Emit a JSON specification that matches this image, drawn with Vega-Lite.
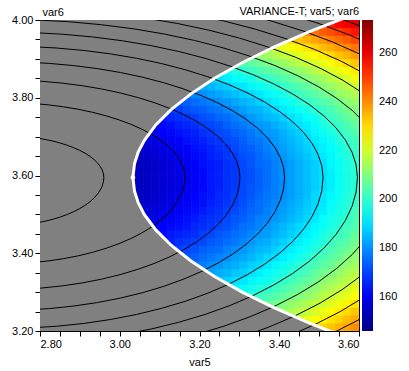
{
"$schema": "https://vega.github.io/schema/vega-lite/v6.json",
"width": 319, "height": 311,
"autosize": "none",
"padding": {"left": 40, "top": 20, "right": 50, "bottom": 40},
"background": "white",
"title": {"text": "VARIANCE-T; var5; var6", "anchor": "end", "frame": "group", "fontSize": 11, "fontWeight": "normal", "font": "Liberation Sans", "color": "black", "offset": -20, "baseline": "alphabetic"},
"config": {
 "view": {"stroke": "black", "strokeWidth": 1, "fill": "#808080"},
 "axis": {"grid": false, "domainColor": "black", "tickColor": "black", "labelColor": "black", "titleColor": "black", "labelFont": "Liberation Sans", "titleFont": "Liberation Sans", "labelFontSize": 11, "titleFontSize": 11, "titleFontWeight": "normal", "tickSize": 5, "labelPadding": 2}
},
"datasets": {
 "grid": [
{"x":3.49,"y":3.21,"v":228},{"x":3.51,"y":3.21,"v":231},{"x":3.53,"y":3.21,"v":233},{"x":3.55,"y":3.21,"v":235},{"x":3.57,"y":3.21,"v":237},{"x":3.59,"y":3.21,"v":240},
{"x":3.45,"y":3.23,"v":221},{"x":3.47,"y":3.23,"v":223},{"x":3.49,"y":3.23,"v":225},{"x":3.51,"y":3.23,"v":227},{"x":3.53,"y":3.23,"v":229},{"x":3.55,"y":3.23,"v":231},{"x":3.57,"y":3.23,"v":234},{"x":3.59,"y":3.23,"v":236},
{"x":3.41,"y":3.25,"v":213},{"x":3.43,"y":3.25,"v":215},{"x":3.45,"y":3.25,"v":217},{"x":3.47,"y":3.25,"v":219},{"x":3.49,"y":3.25,"v":221},{"x":3.51,"y":3.25,"v":223},{"x":3.53,"y":3.25,"v":226},{"x":3.55,"y":3.25,"v":228},{"x":3.57,"y":3.25,"v":230},{"x":3.59,"y":3.25,"v":233},
{"x":3.37,"y":3.27,"v":206},{"x":3.39,"y":3.27,"v":208},{"x":3.41,"y":3.27,"v":210},{"x":3.43,"y":3.27,"v":212},{"x":3.45,"y":3.27,"v":214},{"x":3.47,"y":3.27,"v":216},{"x":3.49,"y":3.27,"v":218},{"x":3.51,"y":3.27,"v":220},{"x":3.53,"y":3.27,"v":222},{"x":3.55,"y":3.27,"v":224},{"x":3.57,"y":3.27,"v":227},{"x":3.59,"y":3.27,"v":229},
{"x":3.33,"y":3.29,"v":199},{"x":3.35,"y":3.29,"v":201},{"x":3.37,"y":3.29,"v":203},{"x":3.39,"y":3.29,"v":204},{"x":3.41,"y":3.29,"v":206},{"x":3.43,"y":3.29,"v":208},{"x":3.45,"y":3.29,"v":210},{"x":3.47,"y":3.29,"v":212},{"x":3.49,"y":3.29,"v":214},{"x":3.51,"y":3.29,"v":217},{"x":3.53,"y":3.29,"v":219},{"x":3.55,"y":3.29,"v":221},{"x":3.57,"y":3.29,"v":223},{"x":3.59,"y":3.29,"v":226},
{"x":3.29,"y":3.31,"v":193},{"x":3.31,"y":3.31,"v":194},{"x":3.33,"y":3.31,"v":196},{"x":3.35,"y":3.31,"v":198},{"x":3.37,"y":3.31,"v":199},{"x":3.39,"y":3.31,"v":201},{"x":3.41,"y":3.31,"v":203},{"x":3.43,"y":3.31,"v":205},{"x":3.45,"y":3.31,"v":207},{"x":3.47,"y":3.31,"v":209},{"x":3.49,"y":3.31,"v":211},{"x":3.51,"y":3.31,"v":214},{"x":3.53,"y":3.31,"v":216},{"x":3.55,"y":3.31,"v":218},{"x":3.57,"y":3.31,"v":220},{"x":3.59,"y":3.31,"v":223},
{"x":3.25,"y":3.33,"v":187},{"x":3.27,"y":3.33,"v":188},{"x":3.29,"y":3.33,"v":190},{"x":3.31,"y":3.33,"v":191},{"x":3.33,"y":3.33,"v":193},{"x":3.35,"y":3.33,"v":195},{"x":3.37,"y":3.33,"v":196},{"x":3.39,"y":3.33,"v":198},{"x":3.41,"y":3.33,"v":200},{"x":3.43,"y":3.33,"v":202},{"x":3.45,"y":3.33,"v":204},{"x":3.47,"y":3.33,"v":206},{"x":3.49,"y":3.33,"v":208},{"x":3.51,"y":3.33,"v":211},{"x":3.53,"y":3.33,"v":213},{"x":3.55,"y":3.33,"v":215},{"x":3.57,"y":3.33,"v":217},{"x":3.59,"y":3.33,"v":220},
{"x":3.21,"y":3.35,"v":181},{"x":3.23,"y":3.35,"v":182},{"x":3.25,"y":3.35,"v":184},{"x":3.27,"y":3.35,"v":185},{"x":3.29,"y":3.35,"v":187},{"x":3.31,"y":3.35,"v":188},{"x":3.33,"y":3.35,"v":190},{"x":3.35,"y":3.35,"v":192},{"x":3.37,"y":3.35,"v":194},{"x":3.39,"y":3.35,"v":196},{"x":3.41,"y":3.35,"v":197},{"x":3.43,"y":3.35,"v":199},{"x":3.45,"y":3.35,"v":201},{"x":3.47,"y":3.35,"v":203},{"x":3.49,"y":3.35,"v":206},{"x":3.51,"y":3.35,"v":208},{"x":3.53,"y":3.35,"v":210},{"x":3.55,"y":3.35,"v":212},{"x":3.57,"y":3.35,"v":215},{"x":3.59,"y":3.35,"v":217},
{"x":3.19,"y":3.37,"v":177},{"x":3.21,"y":3.37,"v":178},{"x":3.23,"y":3.37,"v":180},{"x":3.25,"y":3.37,"v":181},{"x":3.27,"y":3.37,"v":183},{"x":3.29,"y":3.37,"v":184},{"x":3.31,"y":3.37,"v":186},{"x":3.33,"y":3.37,"v":188},{"x":3.35,"y":3.37,"v":189},{"x":3.37,"y":3.37,"v":191},{"x":3.39,"y":3.37,"v":193},{"x":3.41,"y":3.37,"v":195},{"x":3.43,"y":3.37,"v":197},{"x":3.45,"y":3.37,"v":199},{"x":3.47,"y":3.37,"v":201},{"x":3.49,"y":3.37,"v":203},{"x":3.51,"y":3.37,"v":205},{"x":3.53,"y":3.37,"v":207},{"x":3.55,"y":3.37,"v":210},{"x":3.57,"y":3.37,"v":212},{"x":3.59,"y":3.37,"v":214},
{"x":3.17,"y":3.39,"v":173},{"x":3.19,"y":3.39,"v":174},{"x":3.21,"y":3.39,"v":176},{"x":3.23,"y":3.39,"v":177},{"x":3.25,"y":3.39,"v":179},{"x":3.27,"y":3.39,"v":180},{"x":3.29,"y":3.39,"v":182},{"x":3.31,"y":3.39,"v":183},{"x":3.33,"y":3.39,"v":185},{"x":3.35,"y":3.39,"v":187},{"x":3.37,"y":3.39,"v":189},{"x":3.39,"y":3.39,"v":190},{"x":3.41,"y":3.39,"v":192},{"x":3.43,"y":3.39,"v":194},{"x":3.45,"y":3.39,"v":196},{"x":3.47,"y":3.39,"v":198},{"x":3.49,"y":3.39,"v":201},{"x":3.51,"y":3.39,"v":203},{"x":3.53,"y":3.39,"v":205},{"x":3.55,"y":3.39,"v":207},{"x":3.57,"y":3.39,"v":210},{"x":3.59,"y":3.39,"v":212},
{"x":3.13,"y":3.41,"v":168},{"x":3.15,"y":3.41,"v":170},{"x":3.17,"y":3.41,"v":171},{"x":3.19,"y":3.41,"v":172},{"x":3.21,"y":3.41,"v":174},{"x":3.23,"y":3.41,"v":175},{"x":3.25,"y":3.41,"v":176},{"x":3.27,"y":3.41,"v":178},{"x":3.29,"y":3.41,"v":180},{"x":3.31,"y":3.41,"v":181},{"x":3.33,"y":3.41,"v":183},{"x":3.35,"y":3.41,"v":185},{"x":3.37,"y":3.41,"v":186},{"x":3.39,"y":3.41,"v":188},{"x":3.41,"y":3.41,"v":190},{"x":3.43,"y":3.41,"v":192},{"x":3.45,"y":3.41,"v":194},{"x":3.47,"y":3.41,"v":196},{"x":3.49,"y":3.41,"v":198},{"x":3.51,"y":3.41,"v":200},{"x":3.53,"y":3.41,"v":203},{"x":3.55,"y":3.41,"v":205},{"x":3.57,"y":3.41,"v":207},{"x":3.59,"y":3.41,"v":210},
{"x":3.11,"y":3.43,"v":165},{"x":3.13,"y":3.43,"v":166},{"x":3.15,"y":3.43,"v":168},{"x":3.17,"y":3.43,"v":169},{"x":3.19,"y":3.43,"v":170},{"x":3.21,"y":3.43,"v":171},{"x":3.23,"y":3.43,"v":173},{"x":3.25,"y":3.43,"v":174},{"x":3.27,"y":3.43,"v":176},{"x":3.29,"y":3.43,"v":177},{"x":3.31,"y":3.43,"v":179},{"x":3.33,"y":3.43,"v":181},{"x":3.35,"y":3.43,"v":183},{"x":3.37,"y":3.43,"v":184},{"x":3.39,"y":3.43,"v":186},{"x":3.41,"y":3.43,"v":188},{"x":3.43,"y":3.43,"v":190},{"x":3.45,"y":3.43,"v":192},{"x":3.47,"y":3.43,"v":194},{"x":3.49,"y":3.43,"v":196},{"x":3.51,"y":3.43,"v":198},{"x":3.53,"y":3.43,"v":201},{"x":3.55,"y":3.43,"v":203},{"x":3.57,"y":3.43,"v":205},{"x":3.59,"y":3.43,"v":208},
{"x":3.09,"y":3.45,"v":162},{"x":3.11,"y":3.45,"v":163},{"x":3.13,"y":3.45,"v":165},{"x":3.15,"y":3.45,"v":166},{"x":3.17,"y":3.45,"v":167},{"x":3.19,"y":3.45,"v":168},{"x":3.21,"y":3.45,"v":170},{"x":3.23,"y":3.45,"v":171},{"x":3.25,"y":3.45,"v":173},{"x":3.27,"y":3.45,"v":174},{"x":3.29,"y":3.45,"v":176},{"x":3.31,"y":3.45,"v":177},{"x":3.33,"y":3.45,"v":179},{"x":3.35,"y":3.45,"v":181},{"x":3.37,"y":3.45,"v":182},{"x":3.39,"y":3.45,"v":184},{"x":3.41,"y":3.45,"v":186},{"x":3.43,"y":3.45,"v":188},{"x":3.45,"y":3.45,"v":190},{"x":3.47,"y":3.45,"v":192},{"x":3.49,"y":3.45,"v":194},{"x":3.51,"y":3.45,"v":197},{"x":3.53,"y":3.45,"v":199},{"x":3.55,"y":3.45,"v":201},{"x":3.57,"y":3.45,"v":203},{"x":3.59,"y":3.45,"v":206},
{"x":3.09,"y":3.47,"v":161},{"x":3.11,"y":3.47,"v":162},{"x":3.13,"y":3.47,"v":163},{"x":3.15,"y":3.47,"v":164},{"x":3.17,"y":3.47,"v":165},{"x":3.19,"y":3.47,"v":167},{"x":3.21,"y":3.47,"v":168},{"x":3.23,"y":3.47,"v":169},{"x":3.25,"y":3.47,"v":171},{"x":3.27,"y":3.47,"v":172},{"x":3.29,"y":3.47,"v":174},{"x":3.31,"y":3.47,"v":176},{"x":3.33,"y":3.47,"v":177},{"x":3.35,"y":3.47,"v":179},{"x":3.37,"y":3.47,"v":181},{"x":3.39,"y":3.47,"v":183},{"x":3.41,"y":3.47,"v":185},{"x":3.43,"y":3.47,"v":187},{"x":3.45,"y":3.47,"v":189},{"x":3.47,"y":3.47,"v":191},{"x":3.49,"y":3.47,"v":193},{"x":3.51,"y":3.47,"v":195},{"x":3.53,"y":3.47,"v":197},{"x":3.55,"y":3.47,"v":199},{"x":3.57,"y":3.47,"v":202},{"x":3.59,"y":3.47,"v":204},
{"x":3.07,"y":3.49,"v":158},{"x":3.09,"y":3.49,"v":159},{"x":3.11,"y":3.49,"v":160},{"x":3.13,"y":3.49,"v":161},{"x":3.15,"y":3.49,"v":163},{"x":3.17,"y":3.49,"v":164},{"x":3.19,"y":3.49,"v":165},{"x":3.21,"y":3.49,"v":167},{"x":3.23,"y":3.49,"v":168},{"x":3.25,"y":3.49,"v":169},{"x":3.27,"y":3.49,"v":171},{"x":3.29,"y":3.49,"v":173},{"x":3.31,"y":3.49,"v":174},{"x":3.33,"y":3.49,"v":176},{"x":3.35,"y":3.49,"v":178},{"x":3.37,"y":3.49,"v":179},{"x":3.39,"y":3.49,"v":181},{"x":3.41,"y":3.49,"v":183},{"x":3.43,"y":3.49,"v":185},{"x":3.45,"y":3.49,"v":187},{"x":3.47,"y":3.49,"v":189},{"x":3.49,"y":3.49,"v":191},{"x":3.51,"y":3.49,"v":194},{"x":3.53,"y":3.49,"v":196},{"x":3.55,"y":3.49,"v":198},{"x":3.57,"y":3.49,"v":200},{"x":3.59,"y":3.49,"v":203},
{"x":3.05,"y":3.51,"v":156},{"x":3.07,"y":3.51,"v":157},{"x":3.09,"y":3.51,"v":158},{"x":3.11,"y":3.51,"v":159},{"x":3.13,"y":3.51,"v":160},{"x":3.15,"y":3.51,"v":161},{"x":3.17,"y":3.51,"v":163},{"x":3.19,"y":3.51,"v":164},{"x":3.21,"y":3.51,"v":165},{"x":3.23,"y":3.51,"v":167},{"x":3.25,"y":3.51,"v":168},{"x":3.27,"y":3.51,"v":170},{"x":3.29,"y":3.51,"v":171},{"x":3.31,"y":3.51,"v":173},{"x":3.33,"y":3.51,"v":175},{"x":3.35,"y":3.51,"v":176},{"x":3.37,"y":3.51,"v":178},{"x":3.39,"y":3.51,"v":180},{"x":3.41,"y":3.51,"v":182},{"x":3.43,"y":3.51,"v":184},{"x":3.45,"y":3.51,"v":186},{"x":3.47,"y":3.51,"v":188},{"x":3.49,"y":3.51,"v":190},{"x":3.51,"y":3.51,"v":192},{"x":3.53,"y":3.51,"v":195},{"x":3.55,"y":3.51,"v":197},{"x":3.57,"y":3.51,"v":199},{"x":3.59,"y":3.51,"v":202},
{"x":3.05,"y":3.53,"v":155},{"x":3.07,"y":3.53,"v":156},{"x":3.09,"y":3.53,"v":157},{"x":3.11,"y":3.53,"v":158},{"x":3.13,"y":3.53,"v":159},{"x":3.15,"y":3.53,"v":161},{"x":3.17,"y":3.53,"v":162},{"x":3.19,"y":3.53,"v":163},{"x":3.21,"y":3.53,"v":164},{"x":3.23,"y":3.53,"v":166},{"x":3.25,"y":3.53,"v":167},{"x":3.27,"y":3.53,"v":169},{"x":3.29,"y":3.53,"v":170},{"x":3.31,"y":3.53,"v":172},{"x":3.33,"y":3.53,"v":174},{"x":3.35,"y":3.53,"v":176},{"x":3.37,"y":3.53,"v":177},{"x":3.39,"y":3.53,"v":179},{"x":3.41,"y":3.53,"v":181},{"x":3.43,"y":3.53,"v":183},{"x":3.45,"y":3.53,"v":185},{"x":3.47,"y":3.53,"v":187},{"x":3.49,"y":3.53,"v":189},{"x":3.51,"y":3.53,"v":191},{"x":3.53,"y":3.53,"v":194},{"x":3.55,"y":3.53,"v":196},{"x":3.57,"y":3.53,"v":198},{"x":3.59,"y":3.53,"v":201},
{"x":3.03,"y":3.55,"v":153},{"x":3.05,"y":3.55,"v":154},{"x":3.07,"y":3.55,"v":155},{"x":3.09,"y":3.55,"v":156},{"x":3.11,"y":3.55,"v":157},{"x":3.13,"y":3.55,"v":159},{"x":3.15,"y":3.55,"v":160},{"x":3.17,"y":3.55,"v":161},{"x":3.19,"y":3.55,"v":162},{"x":3.21,"y":3.55,"v":164},{"x":3.23,"y":3.55,"v":165},{"x":3.25,"y":3.55,"v":167},{"x":3.27,"y":3.55,"v":168},{"x":3.29,"y":3.55,"v":170},{"x":3.31,"y":3.55,"v":171},{"x":3.33,"y":3.55,"v":173},{"x":3.35,"y":3.55,"v":175},{"x":3.37,"y":3.55,"v":177},{"x":3.39,"y":3.55,"v":178},{"x":3.41,"y":3.55,"v":180},{"x":3.43,"y":3.55,"v":182},{"x":3.45,"y":3.55,"v":184},{"x":3.47,"y":3.55,"v":186},{"x":3.49,"y":3.55,"v":189},{"x":3.51,"y":3.55,"v":191},{"x":3.53,"y":3.55,"v":193},{"x":3.55,"y":3.55,"v":195},{"x":3.57,"y":3.55,"v":198},{"x":3.59,"y":3.55,"v":200},
{"x":3.03,"y":3.57,"v":153},{"x":3.05,"y":3.57,"v":154},{"x":3.07,"y":3.57,"v":155},{"x":3.09,"y":3.57,"v":156},{"x":3.11,"y":3.57,"v":157},{"x":3.13,"y":3.57,"v":158},{"x":3.15,"y":3.57,"v":159},{"x":3.17,"y":3.57,"v":161},{"x":3.19,"y":3.57,"v":162},{"x":3.21,"y":3.57,"v":163},{"x":3.23,"y":3.57,"v":165},{"x":3.25,"y":3.57,"v":166},{"x":3.27,"y":3.57,"v":168},{"x":3.29,"y":3.57,"v":169},{"x":3.31,"y":3.57,"v":171},{"x":3.33,"y":3.57,"v":173},{"x":3.35,"y":3.57,"v":174},{"x":3.37,"y":3.57,"v":176},{"x":3.39,"y":3.57,"v":178},{"x":3.41,"y":3.57,"v":180},{"x":3.43,"y":3.57,"v":182},{"x":3.45,"y":3.57,"v":184},{"x":3.47,"y":3.57,"v":186},{"x":3.49,"y":3.57,"v":188},{"x":3.51,"y":3.57,"v":190},{"x":3.53,"y":3.57,"v":192},{"x":3.55,"y":3.57,"v":195},{"x":3.57,"y":3.57,"v":197},{"x":3.59,"y":3.57,"v":199},
{"x":3.03,"y":3.59,"v":153},{"x":3.05,"y":3.59,"v":154},{"x":3.07,"y":3.59,"v":155},{"x":3.09,"y":3.59,"v":156},{"x":3.11,"y":3.59,"v":157},{"x":3.13,"y":3.59,"v":158},{"x":3.15,"y":3.59,"v":159},{"x":3.17,"y":3.59,"v":160},{"x":3.19,"y":3.59,"v":162},{"x":3.21,"y":3.59,"v":163},{"x":3.23,"y":3.59,"v":165},{"x":3.25,"y":3.59,"v":166},{"x":3.27,"y":3.59,"v":168},{"x":3.29,"y":3.59,"v":169},{"x":3.31,"y":3.59,"v":171},{"x":3.33,"y":3.59,"v":172},{"x":3.35,"y":3.59,"v":174},{"x":3.37,"y":3.59,"v":176},{"x":3.39,"y":3.59,"v":178},{"x":3.41,"y":3.59,"v":180},{"x":3.43,"y":3.59,"v":182},{"x":3.45,"y":3.59,"v":184},{"x":3.47,"y":3.59,"v":186},{"x":3.49,"y":3.59,"v":188},{"x":3.51,"y":3.59,"v":190},{"x":3.53,"y":3.59,"v":192},{"x":3.55,"y":3.59,"v":195},{"x":3.57,"y":3.59,"v":197},{"x":3.59,"y":3.59,"v":199},
{"x":3.03,"y":3.61,"v":153},{"x":3.05,"y":3.61,"v":154},{"x":3.07,"y":3.61,"v":155},{"x":3.09,"y":3.61,"v":156},{"x":3.11,"y":3.61,"v":157},{"x":3.13,"y":3.61,"v":158},{"x":3.15,"y":3.61,"v":159},{"x":3.17,"y":3.61,"v":161},{"x":3.19,"y":3.61,"v":162},{"x":3.21,"y":3.61,"v":163},{"x":3.23,"y":3.61,"v":165},{"x":3.25,"y":3.61,"v":166},{"x":3.27,"y":3.61,"v":168},{"x":3.29,"y":3.61,"v":169},{"x":3.31,"y":3.61,"v":171},{"x":3.33,"y":3.61,"v":172},{"x":3.35,"y":3.61,"v":174},{"x":3.37,"y":3.61,"v":176},{"x":3.39,"y":3.61,"v":178},{"x":3.41,"y":3.61,"v":180},{"x":3.43,"y":3.61,"v":182},{"x":3.45,"y":3.61,"v":184},{"x":3.47,"y":3.61,"v":186},{"x":3.49,"y":3.61,"v":188},{"x":3.51,"y":3.61,"v":190},{"x":3.53,"y":3.61,"v":192},{"x":3.55,"y":3.61,"v":195},{"x":3.57,"y":3.61,"v":197},{"x":3.59,"y":3.61,"v":199},
{"x":3.03,"y":3.63,"v":153},{"x":3.05,"y":3.63,"v":154},{"x":3.07,"y":3.63,"v":155},{"x":3.09,"y":3.63,"v":156},{"x":3.11,"y":3.63,"v":157},{"x":3.13,"y":3.63,"v":158},{"x":3.15,"y":3.63,"v":160},{"x":3.17,"y":3.63,"v":161},{"x":3.19,"y":3.63,"v":162},{"x":3.21,"y":3.63,"v":164},{"x":3.23,"y":3.63,"v":165},{"x":3.25,"y":3.63,"v":166},{"x":3.27,"y":3.63,"v":168},{"x":3.29,"y":3.63,"v":169},{"x":3.31,"y":3.63,"v":171},{"x":3.33,"y":3.63,"v":173},{"x":3.35,"y":3.63,"v":175},{"x":3.37,"y":3.63,"v":176},{"x":3.39,"y":3.63,"v":178},{"x":3.41,"y":3.63,"v":180},{"x":3.43,"y":3.63,"v":182},{"x":3.45,"y":3.63,"v":184},{"x":3.47,"y":3.63,"v":186},{"x":3.49,"y":3.63,"v":188},{"x":3.51,"y":3.63,"v":190},{"x":3.53,"y":3.63,"v":193},{"x":3.55,"y":3.63,"v":195},{"x":3.57,"y":3.63,"v":197},{"x":3.59,"y":3.63,"v":200},
{"x":3.05,"y":3.65,"v":155},{"x":3.07,"y":3.65,"v":156},{"x":3.09,"y":3.65,"v":157},{"x":3.11,"y":3.65,"v":158},{"x":3.13,"y":3.65,"v":159},{"x":3.15,"y":3.65,"v":160},{"x":3.17,"y":3.65,"v":161},{"x":3.19,"y":3.65,"v":163},{"x":3.21,"y":3.65,"v":164},{"x":3.23,"y":3.65,"v":166},{"x":3.25,"y":3.65,"v":167},{"x":3.27,"y":3.65,"v":169},{"x":3.29,"y":3.65,"v":170},{"x":3.31,"y":3.65,"v":172},{"x":3.33,"y":3.65,"v":173},{"x":3.35,"y":3.65,"v":175},{"x":3.37,"y":3.65,"v":177},{"x":3.39,"y":3.65,"v":179},{"x":3.41,"y":3.65,"v":181},{"x":3.43,"y":3.65,"v":183},{"x":3.45,"y":3.65,"v":185},{"x":3.47,"y":3.65,"v":187},{"x":3.49,"y":3.65,"v":189},{"x":3.51,"y":3.65,"v":191},{"x":3.53,"y":3.65,"v":193},{"x":3.55,"y":3.65,"v":196},{"x":3.57,"y":3.65,"v":198},{"x":3.59,"y":3.65,"v":200},
{"x":3.05,"y":3.67,"v":156},{"x":3.07,"y":3.67,"v":157},{"x":3.09,"y":3.67,"v":158},{"x":3.11,"y":3.67,"v":159},{"x":3.13,"y":3.67,"v":160},{"x":3.15,"y":3.67,"v":161},{"x":3.17,"y":3.67,"v":162},{"x":3.19,"y":3.67,"v":164},{"x":3.21,"y":3.67,"v":165},{"x":3.23,"y":3.67,"v":166},{"x":3.25,"y":3.67,"v":168},{"x":3.27,"y":3.67,"v":169},{"x":3.29,"y":3.67,"v":171},{"x":3.31,"y":3.67,"v":173},{"x":3.33,"y":3.67,"v":174},{"x":3.35,"y":3.67,"v":176},{"x":3.37,"y":3.67,"v":178},{"x":3.39,"y":3.67,"v":180},{"x":3.41,"y":3.67,"v":182},{"x":3.43,"y":3.67,"v":184},{"x":3.45,"y":3.67,"v":186},{"x":3.47,"y":3.67,"v":188},{"x":3.49,"y":3.67,"v":190},{"x":3.51,"y":3.67,"v":192},{"x":3.53,"y":3.67,"v":194},{"x":3.55,"y":3.67,"v":196},{"x":3.57,"y":3.67,"v":199},{"x":3.59,"y":3.67,"v":201},
{"x":3.05,"y":3.69,"v":157},{"x":3.07,"y":3.69,"v":158},{"x":3.09,"y":3.69,"v":159},{"x":3.11,"y":3.69,"v":160},{"x":3.13,"y":3.69,"v":161},{"x":3.15,"y":3.69,"v":162},{"x":3.17,"y":3.69,"v":164},{"x":3.19,"y":3.69,"v":165},{"x":3.21,"y":3.69,"v":166},{"x":3.23,"y":3.69,"v":168},{"x":3.25,"y":3.69,"v":169},{"x":3.27,"y":3.69,"v":171},{"x":3.29,"y":3.69,"v":172},{"x":3.31,"y":3.69,"v":174},{"x":3.33,"y":3.69,"v":176},{"x":3.35,"y":3.69,"v":177},{"x":3.37,"y":3.69,"v":179},{"x":3.39,"y":3.69,"v":181},{"x":3.41,"y":3.69,"v":183},{"x":3.43,"y":3.69,"v":185},{"x":3.45,"y":3.69,"v":187},{"x":3.47,"y":3.69,"v":189},{"x":3.49,"y":3.69,"v":191},{"x":3.51,"y":3.69,"v":193},{"x":3.53,"y":3.69,"v":195},{"x":3.55,"y":3.69,"v":198},{"x":3.57,"y":3.69,"v":200},{"x":3.59,"y":3.69,"v":202},
{"x":3.07,"y":3.71,"v":159},{"x":3.09,"y":3.71,"v":160},{"x":3.11,"y":3.71,"v":162},{"x":3.13,"y":3.71,"v":163},{"x":3.15,"y":3.71,"v":164},{"x":3.17,"y":3.71,"v":165},{"x":3.19,"y":3.71,"v":166},{"x":3.21,"y":3.71,"v":168},{"x":3.23,"y":3.71,"v":169},{"x":3.25,"y":3.71,"v":171},{"x":3.27,"y":3.71,"v":172},{"x":3.29,"y":3.71,"v":174},{"x":3.31,"y":3.71,"v":175},{"x":3.33,"y":3.71,"v":177},{"x":3.35,"y":3.71,"v":179},{"x":3.37,"y":3.71,"v":181},{"x":3.39,"y":3.71,"v":182},{"x":3.41,"y":3.71,"v":184},{"x":3.43,"y":3.71,"v":186},{"x":3.45,"y":3.71,"v":188},{"x":3.47,"y":3.71,"v":190},{"x":3.49,"y":3.71,"v":193},{"x":3.51,"y":3.71,"v":195},{"x":3.53,"y":3.71,"v":197},{"x":3.55,"y":3.71,"v":199},{"x":3.57,"y":3.71,"v":202},{"x":3.59,"y":3.71,"v":204},
{"x":3.09,"y":3.73,"v":162},{"x":3.11,"y":3.73,"v":163},{"x":3.13,"y":3.73,"v":164},{"x":3.15,"y":3.73,"v":166},{"x":3.17,"y":3.73,"v":167},{"x":3.19,"y":3.73,"v":168},{"x":3.21,"y":3.73,"v":170},{"x":3.23,"y":3.73,"v":171},{"x":3.25,"y":3.73,"v":172},{"x":3.27,"y":3.73,"v":174},{"x":3.29,"y":3.73,"v":176},{"x":3.31,"y":3.73,"v":177},{"x":3.33,"y":3.73,"v":179},{"x":3.35,"y":3.73,"v":181},{"x":3.37,"y":3.73,"v":182},{"x":3.39,"y":3.73,"v":184},{"x":3.41,"y":3.73,"v":186},{"x":3.43,"y":3.73,"v":188},{"x":3.45,"y":3.73,"v":190},{"x":3.47,"y":3.73,"v":192},{"x":3.49,"y":3.73,"v":194},{"x":3.51,"y":3.73,"v":197},{"x":3.53,"y":3.73,"v":199},{"x":3.55,"y":3.73,"v":201},{"x":3.57,"y":3.73,"v":203},{"x":3.59,"y":3.73,"v":206},
{"x":3.11,"y":3.75,"v":165},{"x":3.13,"y":3.75,"v":167},{"x":3.15,"y":3.75,"v":168},{"x":3.17,"y":3.75,"v":169},{"x":3.19,"y":3.75,"v":170},{"x":3.21,"y":3.75,"v":172},{"x":3.23,"y":3.75,"v":173},{"x":3.25,"y":3.75,"v":175},{"x":3.27,"y":3.75,"v":176},{"x":3.29,"y":3.75,"v":178},{"x":3.31,"y":3.75,"v":179},{"x":3.33,"y":3.75,"v":181},{"x":3.35,"y":3.75,"v":183},{"x":3.37,"y":3.75,"v":185},{"x":3.39,"y":3.75,"v":186},{"x":3.41,"y":3.75,"v":188},{"x":3.43,"y":3.75,"v":190},{"x":3.45,"y":3.75,"v":192},{"x":3.47,"y":3.75,"v":194},{"x":3.49,"y":3.75,"v":196},{"x":3.51,"y":3.75,"v":199},{"x":3.53,"y":3.75,"v":201},{"x":3.55,"y":3.75,"v":203},{"x":3.57,"y":3.75,"v":206},{"x":3.59,"y":3.75,"v":208},
{"x":3.13,"y":3.77,"v":169},{"x":3.15,"y":3.77,"v":170},{"x":3.17,"y":3.77,"v":172},{"x":3.19,"y":3.77,"v":173},{"x":3.21,"y":3.77,"v":174},{"x":3.23,"y":3.77,"v":176},{"x":3.25,"y":3.77,"v":177},{"x":3.27,"y":3.77,"v":179},{"x":3.29,"y":3.77,"v":180},{"x":3.31,"y":3.77,"v":182},{"x":3.33,"y":3.77,"v":184},{"x":3.35,"y":3.77,"v":185},{"x":3.37,"y":3.77,"v":187},{"x":3.39,"y":3.77,"v":189},{"x":3.41,"y":3.77,"v":191},{"x":3.43,"y":3.77,"v":193},{"x":3.45,"y":3.77,"v":195},{"x":3.47,"y":3.77,"v":197},{"x":3.49,"y":3.77,"v":199},{"x":3.51,"y":3.77,"v":201},{"x":3.53,"y":3.77,"v":203},{"x":3.55,"y":3.77,"v":206},{"x":3.57,"y":3.77,"v":208},{"x":3.59,"y":3.77,"v":210},
{"x":3.15,"y":3.79,"v":173},{"x":3.17,"y":3.79,"v":174},{"x":3.19,"y":3.79,"v":176},{"x":3.21,"y":3.79,"v":177},{"x":3.23,"y":3.79,"v":178},{"x":3.25,"y":3.79,"v":180},{"x":3.27,"y":3.79,"v":181},{"x":3.29,"y":3.79,"v":183},{"x":3.31,"y":3.79,"v":185},{"x":3.33,"y":3.79,"v":186},{"x":3.35,"y":3.79,"v":188},{"x":3.37,"y":3.79,"v":190},{"x":3.39,"y":3.79,"v":192},{"x":3.41,"y":3.79,"v":194},{"x":3.43,"y":3.79,"v":196},{"x":3.45,"y":3.79,"v":198},{"x":3.47,"y":3.79,"v":200},{"x":3.49,"y":3.79,"v":202},{"x":3.51,"y":3.79,"v":204},{"x":3.53,"y":3.79,"v":206},{"x":3.55,"y":3.79,"v":208},{"x":3.57,"y":3.79,"v":211},{"x":3.59,"y":3.79,"v":213},
{"x":3.17,"y":3.81,"v":178},{"x":3.19,"y":3.81,"v":179},{"x":3.21,"y":3.81,"v":180},{"x":3.23,"y":3.81,"v":182},{"x":3.25,"y":3.81,"v":183},{"x":3.27,"y":3.81,"v":185},{"x":3.29,"y":3.81,"v":186},{"x":3.31,"y":3.81,"v":188},{"x":3.33,"y":3.81,"v":189},{"x":3.35,"y":3.81,"v":191},{"x":3.37,"y":3.81,"v":193},{"x":3.39,"y":3.81,"v":195},{"x":3.41,"y":3.81,"v":197},{"x":3.43,"y":3.81,"v":199},{"x":3.45,"y":3.81,"v":201},{"x":3.47,"y":3.81,"v":203},{"x":3.49,"y":3.81,"v":205},{"x":3.51,"y":3.81,"v":207},{"x":3.53,"y":3.81,"v":209},{"x":3.55,"y":3.81,"v":212},{"x":3.57,"y":3.81,"v":214},{"x":3.59,"y":3.81,"v":216},
{"x":3.21,"y":3.83,"v":184},{"x":3.23,"y":3.83,"v":185},{"x":3.25,"y":3.83,"v":187},{"x":3.27,"y":3.83,"v":188},{"x":3.29,"y":3.83,"v":190},{"x":3.31,"y":3.83,"v":191},{"x":3.33,"y":3.83,"v":193},{"x":3.35,"y":3.83,"v":195},{"x":3.37,"y":3.83,"v":197},{"x":3.39,"y":3.83,"v":198},{"x":3.41,"y":3.83,"v":200},{"x":3.43,"y":3.83,"v":202},{"x":3.45,"y":3.83,"v":204},{"x":3.47,"y":3.83,"v":206},{"x":3.49,"y":3.83,"v":208},{"x":3.51,"y":3.83,"v":211},{"x":3.53,"y":3.83,"v":213},{"x":3.55,"y":3.83,"v":215},{"x":3.57,"y":3.83,"v":217},{"x":3.59,"y":3.83,"v":220},
{"x":3.23,"y":3.85,"v":189},{"x":3.25,"y":3.85,"v":190},{"x":3.27,"y":3.85,"v":192},{"x":3.29,"y":3.85,"v":194},{"x":3.31,"y":3.85,"v":195},{"x":3.33,"y":3.85,"v":197},{"x":3.35,"y":3.85,"v":199},{"x":3.37,"y":3.85,"v":200},{"x":3.39,"y":3.85,"v":202},{"x":3.41,"y":3.85,"v":204},{"x":3.43,"y":3.85,"v":206},{"x":3.45,"y":3.85,"v":208},{"x":3.47,"y":3.85,"v":210},{"x":3.49,"y":3.85,"v":212},{"x":3.51,"y":3.85,"v":214},{"x":3.53,"y":3.85,"v":217},{"x":3.55,"y":3.85,"v":219},{"x":3.57,"y":3.85,"v":221},{"x":3.59,"y":3.85,"v":224},
{"x":3.27,"y":3.87,"v":196},{"x":3.29,"y":3.87,"v":198},{"x":3.31,"y":3.87,"v":199},{"x":3.33,"y":3.87,"v":201},{"x":3.35,"y":3.87,"v":203},{"x":3.37,"y":3.87,"v":205},{"x":3.39,"y":3.87,"v":206},{"x":3.41,"y":3.87,"v":208},{"x":3.43,"y":3.87,"v":210},{"x":3.45,"y":3.87,"v":212},{"x":3.47,"y":3.87,"v":214},{"x":3.49,"y":3.87,"v":217},{"x":3.51,"y":3.87,"v":219},{"x":3.53,"y":3.87,"v":221},{"x":3.55,"y":3.87,"v":223},{"x":3.57,"y":3.87,"v":226},{"x":3.59,"y":3.87,"v":228},
{"x":3.31,"y":3.89,"v":204},{"x":3.33,"y":3.89,"v":206},{"x":3.35,"y":3.89,"v":207},{"x":3.37,"y":3.89,"v":209},{"x":3.39,"y":3.89,"v":211},{"x":3.41,"y":3.89,"v":213},{"x":3.43,"y":3.89,"v":215},{"x":3.45,"y":3.89,"v":217},{"x":3.47,"y":3.89,"v":219},{"x":3.49,"y":3.89,"v":221},{"x":3.51,"y":3.89,"v":223},{"x":3.53,"y":3.89,"v":226},{"x":3.55,"y":3.89,"v":228},{"x":3.57,"y":3.89,"v":230},{"x":3.59,"y":3.89,"v":233},
{"x":3.35,"y":3.91,"v":212},{"x":3.37,"y":3.91,"v":214},{"x":3.39,"y":3.91,"v":216},{"x":3.41,"y":3.91,"v":218},{"x":3.43,"y":3.91,"v":220},{"x":3.45,"y":3.91,"v":222},{"x":3.47,"y":3.91,"v":224},{"x":3.49,"y":3.91,"v":226},{"x":3.51,"y":3.91,"v":228},{"x":3.53,"y":3.91,"v":230},{"x":3.55,"y":3.91,"v":233},{"x":3.57,"y":3.91,"v":235},{"x":3.59,"y":3.91,"v":238},
{"x":3.39,"y":3.93,"v":221},{"x":3.41,"y":3.93,"v":223},{"x":3.43,"y":3.93,"v":225},{"x":3.45,"y":3.93,"v":227},{"x":3.47,"y":3.93,"v":229},{"x":3.49,"y":3.93,"v":231},{"x":3.51,"y":3.93,"v":234},{"x":3.53,"y":3.93,"v":236},{"x":3.55,"y":3.93,"v":238},{"x":3.57,"y":3.93,"v":240},{"x":3.59,"y":3.93,"v":243},
{"x":3.43,"y":3.95,"v":231},{"x":3.45,"y":3.95,"v":233},{"x":3.47,"y":3.95,"v":235},{"x":3.49,"y":3.95,"v":237},{"x":3.51,"y":3.95,"v":239},{"x":3.53,"y":3.95,"v":242},{"x":3.55,"y":3.95,"v":244},{"x":3.57,"y":3.95,"v":246},{"x":3.59,"y":3.95,"v":249},
{"x":3.47,"y":3.97,"v":241},{"x":3.49,"y":3.97,"v":243},{"x":3.51,"y":3.97,"v":246},{"x":3.53,"y":3.97,"v":248},{"x":3.55,"y":3.97,"v":250},{"x":3.57,"y":3.97,"v":252},{"x":3.59,"y":3.97,"v":255},
{"x":3.53,"y":3.99,"v":254},{"x":3.55,"y":3.99,"v":257},{"x":3.57,"y":3.99,"v":259},{"x":3.59,"y":3.99,"v":261}
 ],
 "iso": [
{"c":"150","x":2.789,"y":3.4776},{"c":"150","x":2.8099,"y":3.4818},{"c":"150","x":2.8301,"y":3.4868},{"c":"150","x":2.8492,"y":3.4927},{"c":"150","x":2.8672,"y":3.4993},{"c":"150","x":2.8839,"y":3.5067},{"c":"150","x":2.8993,"y":3.5147},{"c":"150","x":2.9131,"y":3.5234},{"c":"150","x":2.9253,"y":3.5326},{"c":"150","x":2.9357,"y":3.5422},{"c":"150","x":2.9444,"y":3.5523},{"c":"150","x":2.9512,"y":3.5627},{"c":"150","x":2.9562,"y":3.5733},{"c":"150","x":2.9591,"y":3.5841},{"c":"150","x":2.9601,"y":3.595},{"c":"150","x":2.9591,"y":3.6045},{"c":"150","x":2.9562,"y":3.6139},{"c":"150","x":2.9512,"y":3.6231},{"c":"150","x":2.9444,"y":3.6321},{"c":"150","x":2.9357,"y":3.6409},{"c":"150","x":2.9253,"y":3.6493},{"c":"150","x":2.9131,"y":3.6573},{"c":"150","x":2.8993,"y":3.6648},{"c":"150","x":2.8839,"y":3.6718},{"c":"150","x":2.8672,"y":3.6782},{"c":"150","x":2.8492,"y":3.684},{"c":"150","x":2.8301,"y":3.6891},{"c":"150","x":2.8099,"y":3.6934},{"c":"150","x":2.789,"y":3.6971},
{"c":"160","x":2.7805,"y":3.3759},{"c":"160","x":2.8199,"y":3.3801},{"c":"160","x":2.8585,"y":3.386},{"c":"160","x":2.8958,"y":3.3934},{"c":"160","x":2.9317,"y":3.4023},{"c":"160","x":2.9658,"y":3.4128},{"c":"160","x":2.9979,"y":3.4246},{"c":"160","x":3.0277,"y":3.4377},{"c":"160","x":3.055,"y":3.452},{"c":"160","x":3.0796,"y":3.4674},{"c":"160","x":3.1013,"y":3.4838},{"c":"160","x":3.12,"y":3.501},{"c":"160","x":3.1355,"y":3.5189},{"c":"160","x":3.1476,"y":3.5374},{"c":"160","x":3.1564,"y":3.5564},{"c":"160","x":3.1616,"y":3.5756},{"c":"160","x":3.1634,"y":3.595},{"c":"160","x":3.1616,"y":3.6119},{"c":"160","x":3.1564,"y":3.6286},{"c":"160","x":3.1476,"y":3.6451},{"c":"160","x":3.1355,"y":3.6612},{"c":"160","x":3.12,"y":3.6768},{"c":"160","x":3.1013,"y":3.6917},{"c":"160","x":3.0796,"y":3.706},{"c":"160","x":3.055,"y":3.7194},{"c":"160","x":3.0277,"y":3.7318},{"c":"160","x":2.9979,"y":3.7432},{"c":"160","x":2.9658,"y":3.7535},{"c":"160","x":2.9317,"y":3.7626},{"c":"160","x":2.8958,"y":3.7704},{"c":"160","x":2.8585,"y":3.7768},{"c":"160","x":2.8199,"y":3.7819},{"c":"160","x":2.7805,"y":3.7855},
{"c":"170","x":2.7524,"y":3.3073},{"c":"170","x":2.8045,"y":3.3106},{"c":"170","x":2.8557,"y":3.3161},{"c":"170","x":2.9057,"y":3.3236},{"c":"170","x":2.9542,"y":3.3333},{"c":"170","x":3.0007,"y":3.3449},{"c":"170","x":3.045,"y":3.3585},{"c":"170","x":3.0866,"y":3.3738},{"c":"170","x":3.1253,"y":3.3908},{"c":"170","x":3.1608,"y":3.4094},{"c":"170","x":3.1927,"y":3.4294},{"c":"170","x":3.2209,"y":3.4506},{"c":"170","x":3.2451,"y":3.473},{"c":"170","x":3.2652,"y":3.4962},{"c":"170","x":3.281,"y":3.5203},{"c":"170","x":3.2923,"y":3.5449},{"c":"170","x":3.2992,"y":3.5698},{"c":"170","x":3.3015,"y":3.595},{"c":"170","x":3.2992,"y":3.6169},{"c":"170","x":3.2923,"y":3.6386},{"c":"170","x":3.281,"y":3.66},{"c":"170","x":3.2652,"y":3.6809},{"c":"170","x":3.2451,"y":3.7011},{"c":"170","x":3.2209,"y":3.7206},{"c":"170","x":3.1927,"y":3.7391},{"c":"170","x":3.1608,"y":3.7564},{"c":"170","x":3.1253,"y":3.7726},{"c":"170","x":3.0866,"y":3.7874},{"c":"170","x":3.045,"y":3.8007},{"c":"170","x":3.0007,"y":3.8125},{"c":"170","x":2.9542,"y":3.8226},{"c":"170","x":2.9057,"y":3.831},{"c":"170","x":2.8557,"y":3.8376},{"c":"170","x":2.8045,"y":3.8423},{"c":"170","x":2.7524,"y":3.8452},
{"c":"180","x":2.7622,"y":3.2538},{"c":"180","x":2.8239,"y":3.2577},{"c":"180","x":2.8846,"y":3.2642},{"c":"180","x":2.944,"y":3.2732},{"c":"180","x":3.0015,"y":3.2846},{"c":"180","x":3.0567,"y":3.2984},{"c":"180","x":3.1092,"y":3.3145},{"c":"180","x":3.1585,"y":3.3327},{"c":"180","x":3.2044,"y":3.3528},{"c":"180","x":3.2464,"y":3.3749},{"c":"180","x":3.2843,"y":3.3986},{"c":"180","x":3.3178,"y":3.4238},{"c":"180","x":3.3465,"y":3.4503},{"c":"180","x":3.3703,"y":3.4779},{"c":"180","x":3.389,"y":3.5064},{"c":"180","x":3.4025,"y":3.5355},{"c":"180","x":3.4106,"y":3.5652},{"c":"180","x":3.4133,"y":3.595},{"c":"180","x":3.4106,"y":3.621},{"c":"180","x":3.4025,"y":3.6467},{"c":"180","x":3.389,"y":3.6721},{"c":"180","x":3.3703,"y":3.6969},{"c":"180","x":3.3465,"y":3.7209},{"c":"180","x":3.3178,"y":3.7439},{"c":"180","x":3.2843,"y":3.7659},{"c":"180","x":3.2464,"y":3.7865},{"c":"180","x":3.2044,"y":3.8056},{"c":"180","x":3.1585,"y":3.8232},{"c":"180","x":3.1092,"y":3.839},{"c":"180","x":3.0567,"y":3.853},{"c":"180","x":3.0015,"y":3.865},{"c":"180","x":2.944,"y":3.8749},{"c":"180","x":2.8846,"y":3.8827},{"c":"180","x":2.8239,"y":3.8883},{"c":"180","x":2.7622,"y":3.8917},
{"c":"190","x":2.7706,"y":3.2077},{"c":"190","x":2.8406,"y":3.2121},{"c":"190","x":2.9096,"y":3.2194},{"c":"190","x":2.977,"y":3.2296},{"c":"190","x":3.0423,"y":3.2426},{"c":"190","x":3.1049,"y":3.2583},{"c":"190","x":3.1645,"y":3.2765},{"c":"190","x":3.2206,"y":3.2971},{"c":"190","x":3.2727,"y":3.3201},{"c":"190","x":3.3204,"y":3.3451},{"c":"190","x":3.3634,"y":3.372},{"c":"190","x":3.4014,"y":3.4006},{"c":"190","x":3.434,"y":3.4307},{"c":"190","x":3.461,"y":3.462},{"c":"190","x":3.4823,"y":3.4944},{"c":"190","x":3.4975,"y":3.5275},{"c":"190","x":3.5068,"y":3.5611},{"c":"190","x":3.5099,"y":3.595},{"c":"190","x":3.5068,"y":3.6245},{"c":"190","x":3.4975,"y":3.6537},{"c":"190","x":3.4823,"y":3.6825},{"c":"190","x":3.461,"y":3.7107},{"c":"190","x":3.434,"y":3.7379},{"c":"190","x":3.4014,"y":3.7641},{"c":"190","x":3.3634,"y":3.789},{"c":"190","x":3.3204,"y":3.8124},{"c":"190","x":3.2727,"y":3.8341},{"c":"190","x":3.2206,"y":3.8541},{"c":"190","x":3.1645,"y":3.872},{"c":"190","x":3.1049,"y":3.8879},{"c":"190","x":3.0423,"y":3.9015},{"c":"190","x":2.977,"y":3.9128},{"c":"190","x":2.9096,"y":3.9217},{"c":"190","x":2.8406,"y":3.928},{"c":"190","x":2.7706,"y":3.9319},
{"c":"200","x":3.0065,"y":3.1907},{"c":"200","x":3.0787,"y":3.2051},{"c":"200","x":3.148,"y":3.2224},{"c":"200","x":3.214,"y":3.2426},{"c":"200","x":3.276,"y":3.2654},{"c":"200","x":3.3336,"y":3.2908},{"c":"200","x":3.3864,"y":3.3185},{"c":"200","x":3.434,"y":3.3482},{"c":"200","x":3.476,"y":3.3799},{"c":"200","x":3.5121,"y":3.4132},{"c":"200","x":3.542,"y":3.4479},{"c":"200","x":3.5655,"y":3.4837},{"c":"200","x":3.5825,"y":3.5203},{"c":"200","x":3.5927,"y":3.5575},{"c":"200","x":3.5961,"y":3.595},{"c":"200","x":3.5927,"y":3.6276},{"c":"200","x":3.5825,"y":3.66},{"c":"200","x":3.5655,"y":3.6918},{"c":"200","x":3.542,"y":3.723},{"c":"200","x":3.5121,"y":3.7531},{"c":"200","x":3.476,"y":3.7821},{"c":"200","x":3.434,"y":3.8096},{"c":"200","x":3.3864,"y":3.8355},{"c":"200","x":3.3336,"y":3.8596},{"c":"200","x":3.276,"y":3.8816},{"c":"200","x":3.214,"y":3.9015},{"c":"200","x":3.148,"y":3.919},{"c":"200","x":3.0787,"y":3.9341},{"c":"200","x":3.0065,"y":3.9466},{"c":"200","x":2.9319,"y":3.9564},{"c":"200","x":2.8556,"y":3.9635},{"c":"200","x":2.7781,"y":3.9678},
{"c":"210u","x":3.6159,"y":3.7342},{"c":"210u","x":3.5834,"y":3.767},{"c":"210u","x":3.5441,"y":3.7985},{"c":"210u","x":3.4984,"y":3.8284},{"c":"210u","x":3.4466,"y":3.8566},{"c":"210u","x":3.3892,"y":3.8828},{"c":"210u","x":3.3265,"y":3.9068},{"c":"210u","x":3.2591,"y":3.9284},{"c":"210u","x":3.1873,"y":3.9475},{"c":"210u","x":3.1119,"y":3.9639},{"c":"210u","x":3.0334,"y":3.9775},{"c":"210u","x":2.9523,"y":3.9881},{"c":"210u","x":2.8693,"y":3.9958},{"c":"210u","x":2.785,"y":4.0004},
{"c":"210d","x":3.1873,"y":3.1897},{"c":"210d","x":3.2591,"y":3.2117},{"c":"210d","x":3.3265,"y":3.2365},{"c":"210d","x":3.3892,"y":3.2641},{"c":"210d","x":3.4466,"y":3.2942},{"c":"210d","x":3.4984,"y":3.3266},{"c":"210d","x":3.5441,"y":3.361},{"c":"210d","x":3.5834,"y":3.3972},{"c":"210d","x":3.6159,"y":3.435},
{"c":"220u","x":3.6071,"y":3.8137},{"c":"220u","x":3.558,"y":3.8459},{"c":"220u","x":3.5024,"y":3.8761},{"c":"220u","x":3.4406,"y":3.9043},{"c":"220u","x":3.3733,"y":3.93},{"c":"220u","x":3.3008,"y":3.9533},{"c":"220u","x":3.2237,"y":3.9738},{"c":"220u","x":3.1427,"y":3.9914},{"c":"220u","x":3.0582,"y":4.006},
{"c":"220d","x":3.3008,"y":3.1831},{"c":"220d","x":3.3733,"y":3.2098},{"c":"220d","x":3.4406,"y":3.2394},{"c":"220d","x":3.5024,"y":3.2718},{"c":"220d","x":3.558,"y":3.3066},{"c":"220d","x":3.6071,"y":3.3436},
{"c":"230u","x":3.6137,"y":3.8621},{"c":"230u","x":3.5544,"y":3.8944},{"c":"230u","x":3.4887,"y":3.9243},{"c":"230u","x":3.417,"y":3.9518},{"c":"230u","x":3.3398,"y":3.9765},{"c":"230u","x":3.2577,"y":3.9984},{"c":"230u","x":3.1714,"y":4.0171},
{"c":"230d","x":3.417,"y":3.1848},{"c":"230d","x":3.4887,"y":3.2163},{"c":"230d","x":3.5544,"y":3.2508},{"c":"230d","x":3.6137,"y":3.2878},
{"c":"240u","x":3.6035,"y":3.9116},{"c":"240u","x":3.534,"y":3.9433},{"c":"240u","x":3.4582,"y":3.9723},{"c":"240u","x":3.3765,"y":3.9984},{"c":"240u","x":3.2897,"y":4.0215},
{"c":"240d","x":3.534,"y":3.1946},{"c":"240d","x":3.6035,"y":3.231},
{"c":"250u","x":3.6501,"y":3.9279},{"c":"250u","x":3.577,"y":3.9612},{"c":"250u","x":3.4972,"y":3.9917},{"c":"250u","x":3.4114,"y":4.0192},
{"c":"260u","x":3.618,"y":3.9783},{"c":"260u","x":3.577,"y":3.9947},{"c":"260u","x":3.5345,"y":4.0103}
 ],
 "edge": [
{"x":3.6291,"y":3.16},{"x":3.5755,"y":3.18},{"x":3.476,"y":3.22},{"x":3.3865,"y":3.26},{"x":3.3071,"y":3.3},{"x":3.2378,"y":3.34},{"x":3.1786,"y":3.38},{"x":3.1295,"y":3.42},{"x":3.0904,"y":3.46},{"x":3.0614,"y":3.5},{"x":3.0463,"y":3.53},{"x":3.0369,"y":3.56},{"x":3.033,"y":3.595},{"x":3.0369,"y":3.63},{"x":3.0463,"y":3.66},{"x":3.0614,"y":3.69},{"x":3.0904,"y":3.73},{"x":3.1295,"y":3.77},{"x":3.1786,"y":3.81},{"x":3.2378,"y":3.85},{"x":3.3071,"y":3.89},{"x":3.3865,"y":3.93},{"x":3.476,"y":3.97},{"x":3.5755,"y":4.01},{"x":3.6291,"y":4.03}
 ],
 "opt": [{"x":3.033,"y":3.595}]
},
"encoding": {
 "x": {"field": "x", "type": "quantitative", "scale": {"domain": [2.8, 3.6], "nice": false, "zero": false},
  "axis": {"title": "var5", "values": [2.8,2.85,2.9,2.95,3.0,3.05,3.1,3.15,3.2,3.25,3.3,3.35,3.4,3.45,3.5,3.55,3.6], "labelExpr": "round(datum.value*100) % 20 == 0 ? format(datum.value, '.2f') : ''", "titleY": 34, "titleBaseline": "alphabetic", "labelOverlap": false}},
 "y": {"field": "y", "type": "quantitative", "scale": {"domain": [3.2, 4.0], "nice": false, "zero": false},
  "axis": {"title": "var6", "values": [3.2,3.25,3.3,3.35,3.4,3.45,3.5,3.55,3.6,3.65,3.7,3.75,3.8,3.85,3.9,3.95,4.0], "labelExpr": "round(datum.value*100) % 20 == 0 ? format(datum.value, '.2f') : ''", "titleAngle": 0, "titleAlign": "left", "titleBaseline": "alphabetic", "titleX": 2, "titleY": -5, "labelOverlap": false}}
},
"layer": [
 {"data": {"name": "grid"},
  "mark": {"type": "square", "size": 70, "opacity": 1, "filled": true, "clip": true, "strokeWidth": 0},
  "encoding": {
   "color": {"field": "v", "type": "quantitative",
    "scale": {"domain": [146.3, 162.2, 193.9, 225.7, 257.4, 273.3], "range": ["#000080", "#0000ff", "#00ffff", "#ffff00", "#ff0000", "#800000"], "interpolate": "rgb"},
    "legend": {"orient": "right", "offset": 3, "direction": "vertical", "gradientLength": 311, "gradientThickness": 11, "values": [160, 180, 200, 220, 240, 260], "labelFontSize": 11, "labelFont": "Liberation Sans", "labelColor": "black", "title": null, "padding": 0, "labelOffset": 6, "gradientStrokeWidth": 0}}
  }},
 {"data": {"name": "edge"},
  "mark": {"type": "area", "orient": "horizontal", "color": "#808080", "opacity": 1, "clip": true},
  "encoding": {"x2": {"datum": 2.8}}},
 {"data": {"name": "iso"},
  "mark": {"type": "line", "color": "black", "strokeWidth": 1, "clip": true},
  "encoding": {"detail": {"field": "c", "type": "nominal"}, "order": {"field": "y", "type": "quantitative"}}},
 {"data": {"name": "edge"},
  "mark": {"type": "line", "color": "white", "strokeWidth": 3, "clip": true},
  "encoding": {"order": {"field": "y", "type": "quantitative"}}},
 {"data": {"name": "opt"},
  "mark": {"type": "point", "filled": true, "color": "white", "size": 22, "opacity": 1, "clip": true},
  "encoding": {}}
]
}
